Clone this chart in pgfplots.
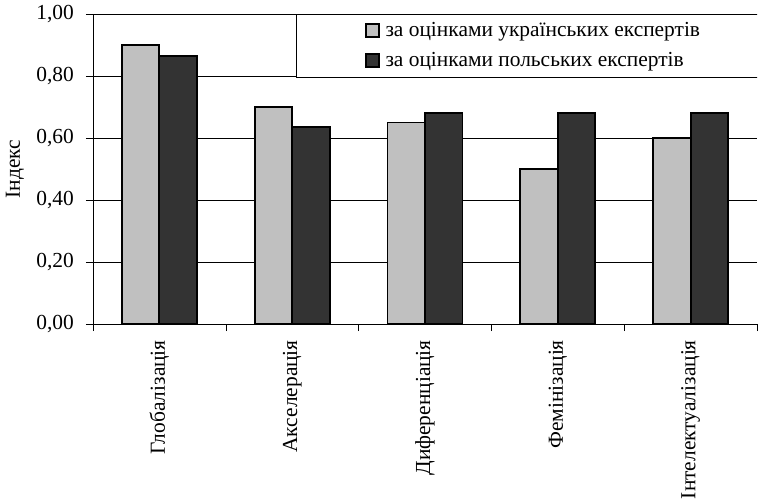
\documentclass[border=0pt]{standalone}
\usepackage{pgfplots}
\pgfplotsset{compat=1.18}
\usepackage{fontspec}
\setmainfont{Liberation Serif}
\definecolor{lightbar}{HTML}{C0C0C0}
\definecolor{darkbar}{HTML}{333333}
\begin{document}
\begin{tikzpicture}
\path[use as bounding box] (-93bp,-175bp) rectangle (677bp,324bp);
\begin{axis}[
  scale only axis,
  width=664bp, height=310bp,
  at={(0,0)}, anchor=south west,
  ybar=0pt, bar width=37.5bp,
  ymin=0, ymax=1,
  xmin=-0.5, xmax=4.5,
  axis lines*=left,
  axis line style={line width=0.8bp},
  ytick={0,0.2,...,1.0},
  ymajorgrids,
  grid style={black, line width=0.6bp},
  xtick={0,1,2,3,4},
  xticklabels={Глобалізація,Акселерація,Диференціація,Фемінізація,Інтелектуалізація},
  minor xtick={-0.5,0.5,...,4.5},
  major x tick style={draw=none},
  minor x tick style={black, line width=0.6bp},
  y tick style={black, line width=0.6bp},
  tick align=outside,
  major tick length=7bp, minor tick length=7bp,
  xticklabel style={rotate=90, anchor=east, inner sep=0pt},
  xticklabel shift=9bp,
  yticklabel style={inner sep=0pt},
  yticklabel shift=12bp,
  /pgf/number format/.cd, fixed, fixed zerofill, precision=2, use comma, assume math mode=true,
  /pgfplots/.cd,
  tick label style={font=\fontsize{21.5}{25}\selectfont},
  ylabel={Індекс},
  ylabel style={at={(axis description cs:-0.1175,0.5)}, anchor=center, font=\fontsize{21.5}{25}\selectfont},
  legend style={at={(rel axis cs:0.6627,0.8984)}, anchor=center, draw=none, fill=none,
    font=\fontsize{21.5}{25}\selectfont, row sep=12bp, column sep=5bp, inner sep=0pt,
    nodes={inner sep=1bp, anchor=west}},
  legend cell align=left,
  legend image code/.code={\draw[#1, draw=black, line width=1.5bp] (0bp,-6.5bp) rectangle (13bp,6.5bp);},
]
\addplot[draw=black, line width=1.8bp, fill=lightbar] coordinates {(0,0.90) (1,0.70) (2,0.65) (3,0.50) (4,0.60)};
\addplot[draw=black, line width=1.8bp, fill=darkbar] coordinates {(0,0.865) (1,0.635) (2,0.68) (3,0.68) (4,0.68)};
\legend{за оцінками українських експертів, за оцінками польських експертів}
\draw[black, line width=0.6bp, fill=white] (rel axis cs:0.3057,1) rectangle (rel axis cs:1.0196,0.7968);
\end{axis}
\end{tikzpicture}
\end{document}
